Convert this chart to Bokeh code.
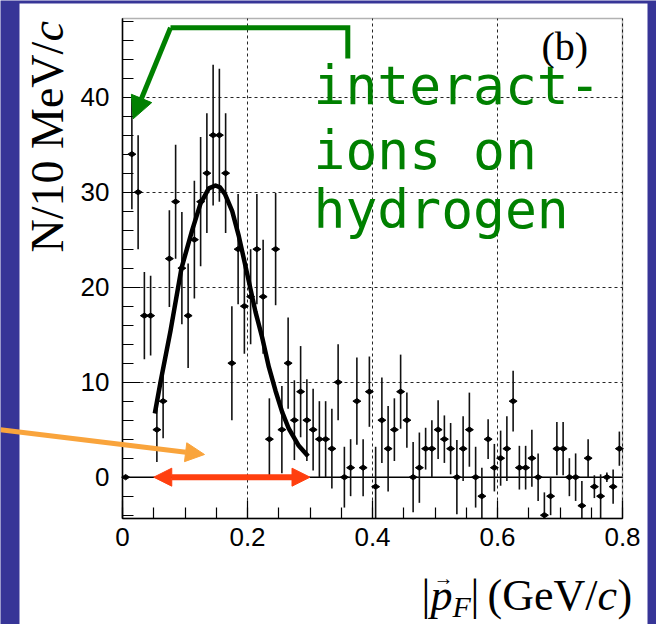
import numpy as np
from bokeh.plotting import figure
from bokeh.models import (Range1d, SingleIntervalTicker, BoxAnnotation, Label,
                          Arrow, NormalHead, ColumnDataSource, Grid)
from bokeh.embed import file_html
from bokeh.resources import INLINE

# ---------------- data ----------------
bin_width = 0.01
bin_centers = [round(0.005 + bin_width * i, 3) for i in range(80)]  # |p_F| bins (GeV/c)

counts = [0, 34, 30, 17, 17, 5, 8, 23, 29, 22,
          17, 25, 29, 32, 36, 36, 32, 12, 24, 18,
          19, 24, 19, 4, 24, 5, 12, 6, 9, 6,
          5, 4, 4, 3, 10, 0, 1, 8, 1, 9,
          -1, 6, 3, 5, 9, 6, 0, 1, 3, 3,
          5, 4, 3, 0, 3, 5, 0, -2, 4, 1,
          2, 3, 8, 1, 1, 2, 0, -4, -2, 3,
          3, 0, 0, -3, 2, -1, -2, 0, -1, 3]

errors = [0, 5.8, 6.0, 4.6, 4.2, 3.4, 3.9, 5.1, 6.0, 5.9,
          5.5, 6.2, 6.8, 6.3, 7.4, 7.0, 6.3, 6.0, 5.8, 5.0,
          5.0, 5.8, 6.0, 4.3, 5.9, 4.6, 4.8, 4.2, 4.8, 4.3,
          4.3, 4.0, 4.0, 4.2, 4.0, 3.2, 3.0, 4.6, 3.0, 3.7,
          4.2, 4.5, 4.5, 3.3, 3.9, 2.9, 3.7, 3.7, 2.2, 3.0,
          3.1, 2.5, 2.7, 3.9, 3.4, 3.9, 3.2, 3.0, 2.1, 2.5,
          2.9, 3.4, 3.2, 2.3, 2.3, 3.0, 2.5, 2.4, 2.0, 2.8,
          2.8, 2.0, 2.5, 2.6, 2.0, 1.2, 2.3, 0.5, 1.8, 1.8]

# fitted curve
fit_p = [0.0517, 0.0608, 0.0768, 0.0944, 0.1115, 0.1248, 0.1381, 0.1488,
         0.1560, 0.1640, 0.1755, 0.1860, 0.1995, 0.2128, 0.2235, 0.2341,
         0.2448, 0.2555, 0.2661, 0.2821, 0.2970]
fit_n = [6.7, 10.0, 15.4, 22.0, 26.0, 28.8, 30.4, 30.7,
         30.5, 29.8, 28.0, 25.4, 21.4, 17.4, 14.7, 11.6,
         9.1, 6.85, 5.1, 3.3, 2.2]

x_tick_step = 0.2
y_tick_step = 10
annotation_lines = ["interact-", "ions on", "hydrogen"]
panel_label = "(b)"
zero_label = {0: "0"}

# ---------------- layout ----------------
W, H = 656, 624
FL, FR, FT, FB = 122, 622, 18, 518      # where the histogram box sits (px)
X0, X1 = 0.0, 0.8
Y0, Y1 = -4.35, 48.28
BLUE = "#373597"


def sx(px):
    return X0 + (px - FL) * (X1 - X0) / (FR - FL)


def sy(py):
    return Y1 - (py - FT) * (Y1 - Y0) / (FB - FT)


p = figure(width=W, height=H,
           x_range=Range1d(sx(0), sx(W)), y_range=Range1d(sy(H), sy(0)),
           output_backend="svg", toolbar_location=None,
           min_border_left=0, min_border_right=0, min_border_top=0, min_border_bottom=0)
p.border_fill_color = BLUE
p.background_fill_color = BLUE
p.outline_line_color = None

# white slide panel
p.add_layout(BoxAnnotation(left=sx(19), right=sx(647), top=sy(3), bottom=sy(640),
                           fill_color="white", fill_alpha=1.0, line_alpha=0, level="image"))

xt = SingleIntervalTicker(interval=x_tick_step, num_minor_ticks=4)
yt = SingleIntervalTicker(interval=y_tick_step, num_minor_ticks=5)

xa = p.xaxis[0]
ya = p.yaxis[0]
xa.ticker = xt
ya.ticker = yt
xa.fixed_location = Y0
ya.fixed_location = X0
xa.bounds = (X0, X1)
ya.bounds = (Y0, Y1)
xa.major_label_overrides = zero_label

for ax in (xa, ya):
    ax.major_tick_in = 18
    ax.major_tick_out = 0
    ax.minor_tick_in = 11
    ax.minor_tick_out = 0
    ax.axis_line_width = 1.5
    ax.major_tick_line_width = 1.2
    ax.minor_tick_line_width = 1.2
    ax.major_label_text_font = "Liberation Sans"
    ax.major_label_text_font_size = "26px"
    ax.major_label_text_color = "black"
ya.major_label_standoff = 13
xa.major_label_standoff = 9

# grid restricted to the histogram box
grid_ok = "cross_bounds" in Grid.properties()
for g, tk, b, cb in ((p.xgrid[0], xt, (X0, X1), (Y0, Y1)),
                     (p.ygrid[0], yt, (Y0, Y1), (X0, X1))):
    g.ticker = tk
    g.grid_line_color = "black"
    g.grid_line_dash = "3 3"
    g.grid_line_width = 1
    g.grid_line_alpha = 0.85
    if grid_ok:
        g.bounds = b
        g.cross_bounds = cb
    else:
        g.visible = False

if not grid_ok:
    gx = [v for v in np.arange(X0 + x_tick_step, X1 - 1e-9, x_tick_step)]
    gy = [v for v in np.arange(y_tick_step, Y1, y_tick_step)]
    p.segment(x0=gx, x1=gx, y0=[Y0] * len(gx), y1=[Y1] * len(gx),
              line_color="black", line_dash="3 3", line_width=1, line_alpha=0.85)
    p.segment(x0=[X0] * len(gy), x1=[X1] * len(gy), y0=gy, y1=gy,
              line_color="black", line_dash="3 3", line_width=1, line_alpha=0.85)

# box around the histogram
p.add_layout(BoxAnnotation(left=X0, right=X1, bottom=Y0, top=Y1, fill_alpha=0,
                           line_color="black", line_width=1.5))
# zero line
p.segment(x0=[X0], x1=[X1], y0=[0], y1=[0], line_color="black", line_width=1.5)

# ---------------- data marks ----------------
x_arr = np.array(bin_centers)
n_arr = np.array(counts, dtype=float)
e_arr = np.array(errors, dtype=float)
has_err = e_arr > 0
lo = np.clip(n_arr - e_arr, Y0, Y1)
hi = np.clip(n_arr + e_arr, Y0, Y1)
err_src = ColumnDataSource(dict(x=x_arr[has_err], lo=lo[has_err], hi=hi[has_err]))
p.segment(x0="x", y0="lo", x1="x", y1="hi", source=err_src,
          line_color="#111111", line_width=1.6)
p.scatter(x_arr, n_arr, marker="diamond", size=8, angle=np.pi / 2,
          fill_color="black", line_color="black")

p.line(fit_p, fit_n, line_color="black", line_width=4.5, line_join="round")

# ---------------- annotations ----------------
BASE_SHIFT = 0.29   # em, correction for the renderer's baseline placement

GREEN = "#008000"
p.line([sx(347.3), sx(347.3), sx(170)], [sy(58), sy(27.3), sy(27.3)],
       line_color=GREEN, line_width=5, line_join="miter")
p.add_layout(Arrow(end=NormalHead(size=22, fill_color=GREEN, line_color=GREEN),
                   x_start=sx(170), y_start=sy(27.3), x_end=sx(132.7), y_end=sy(118.3),
                   line_color=GREEN, line_width=5))

for txt, base in zip(annotation_lines, [100, 165, 224]):
    p.add_layout(Label(x=sx(313), y=sy(base - BASE_SHIFT * 53), text=txt,
                       text_font="DejaVu Sans Mono",
                       text_font_size="53px", text_color=GREEN,
                       text_align="left", text_baseline="alphabetic"))

p.add_layout(Label(x=sx(541), y=sy(58 - BASE_SHIFT * 40), text=panel_label,
                   text_font="Liberation Serif",
                   text_font_size="40px", text_color="black",
                   text_align="left", text_baseline="alphabetic"))

ORANGE = "#F9A43C"
p.add_layout(Arrow(end=NormalHead(size=19, fill_color=ORANGE, line_color=ORANGE),
                   x_start=sx(0), y_start=sy(429.3), x_end=sx(204), y_end=sy(454),
                   line_color=ORANGE, line_width=5))

RED = "#FF3F0F"
p.add_layout(Arrow(start=NormalHead(size=18, fill_color=RED, line_color=RED),
                   end=NormalHead(size=18, fill_color=RED, line_color=RED),
                   x_start=0.05, y_start=0, x_end=0.30, y_end=0,
                   line_color=RED, line_width=6))

SERIF = "Liberation Serif"


def lab(px, py, t, size, style="normal", rotated=False, align="left"):
    if rotated:
        x, y, ang = sx(px - BASE_SHIFT * size), sy(py), np.pi / 2
    else:
        x, y, ang = sx(px), sy(py - BASE_SHIFT * size), 0.0
    p.add_layout(Label(x=x, y=y, text=t, text_font=SERIF, text_font_size=f"{size}px",
                       text_font_style=style, angle=ang, text_color="black",
                       text_align=align, text_baseline="alphabetic"))


# y title: N/10 MeV/c
lab(60, 252, "N/10 MeV/", 46, rotated=True)
lab(60, 41, "c", 46, style="italic", rotated=True)

# x title: |p_F| (GeV/c)
base = 608
lab(421, base, "|", 44)
lab(430, base, "p", 44, style="italic")
lab(443, base - 25, "\u2192", 20, align="center")
lab(452, base + 7, "F", 30, style="italic")
lab(470, base, "|", 44)
lab(487, base, "(GeV/", 44)
lab(597, base, "c", 44, style="italic")
lab(617, base, ")", 44)

open("out.html", "w").write(file_html(p, INLINE))
